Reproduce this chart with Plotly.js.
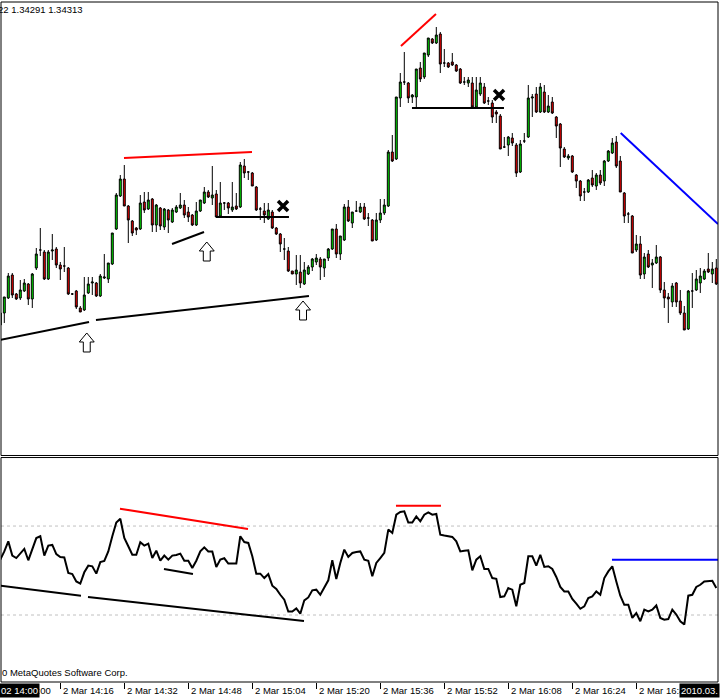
<!DOCTYPE html>
<html><head><meta charset="utf-8">
<script src="https://cdn.plot.ly/plotly-3.0.1.min.js"></script>
<style>html,body{margin:0;padding:0;background:#fff;}#chart{width:720px;height:700px;}</style>
</head><body><div id="chart"></div>
<script>
// EURUSD M1, 2 Mar 2010, bars from 14:01
const firstBar = Date.UTC(2010, 2, 2, 14, 1);
const barCount = 180;

const open = [1.34275,1.34287,1.34302,1.34325,1.34306,1.34302,1.34309,1.34316,1.34301,1.34332,
1.34350,1.34348,1.34321,1.34349,1.34351,1.34335,1.34334,1.34332,1.34306,1.34309,
1.34292,1.34290,1.34307,1.34317,1.34317,1.34304,1.34322,1.34321,1.34336,1.34371,
1.34404,1.34421,1.34394,1.34379,1.34372,1.34371,1.34398,1.34391,1.34401,1.34375,
1.34392,1.34373,1.34390,1.34378,1.34388,1.34392,1.34395,1.34388,1.34385,1.34375,
1.34389,1.34397,1.34408,1.34402,1.34406,1.34384,1.34397,1.34397,1.34390,1.34394,
1.34393,1.34434,1.34428,1.34427,1.34413,1.34391,1.34389,1.34381,1.34388,1.34372,
1.34366,1.34351,1.34349,1.34329,1.34326,1.34328,1.34316,1.34326,1.34333,1.34338,
1.34341,1.34332,1.34342,1.34351,1.34371,1.34346,1.34360,1.34393,1.34377,1.34389,
1.34388,1.34393,1.34382,1.34380,1.34360,1.34380,1.34387,1.34394,1.34448,1.34441,
1.34502,1.34518,1.34517,1.34503,1.34503,1.34532,1.34523,1.34545,1.34561,1.34557,
1.34566,1.34537,1.34537,1.34538,1.34535,1.34531,1.34518,1.34517,1.34517,1.34493,
1.34506,1.34513,1.34499,1.34497,1.34488,1.34484,1.34453,1.34455,1.34462,1.34455,
1.34428,1.34459,1.34463,1.34502,1.34506,1.34488,1.34508,1.34488,1.34498,1.34483,
1.34476,1.34451,1.34442,1.34444,1.34425,1.34419,1.34408,1.34408,1.34422,1.34414,
1.34425,1.34419,1.34439,1.34447,1.34458,1.34439,1.34407,1.34386,1.34384,1.34350,
1.34356,1.34326,1.34346,1.34335,1.34337,1.34343,1.34310,1.34303,1.34298,1.34317,
1.34299,1.34287,1.34271,1.34309,1.34310,1.34317,1.34321,1.34331,1.34326,1.34332];

const high = [1.34288,1.34303,1.34327,1.34327,1.34307,1.34320,1.34321,1.34317,1.34327,1.34352,
1.34372,1.34350,1.34350,1.34366,1.34353,1.34338,1.34353,1.34333,1.34307,1.34310,
1.34294,1.34323,1.34323,1.34323,1.34318,1.34326,1.34346,1.34337,1.34367,1.34407,
1.34425,1.34435,1.34395,1.34380,1.34373,1.34405,1.34408,1.34408,1.34402,1.34396,
1.34393,1.34392,1.34391,1.34392,1.34395,1.34407,1.34400,1.34393,1.34386,1.34398,
1.34400,1.34413,1.34410,1.34434,1.34410,1.34418,1.34398,1.34398,1.34418,1.34407,
1.34438,1.34441,1.34429,1.34428,1.34414,1.34393,1.34397,1.34397,1.34390,1.34373,
1.34367,1.34362,1.34353,1.34329,1.34345,1.34345,1.34338,1.34335,1.34342,1.34346,
1.34343,1.34341,1.34352,1.34371,1.34376,1.34364,1.34396,1.34400,1.34388,1.34399,
1.34397,1.34397,1.34387,1.34381,1.34387,1.34401,1.34401,1.34450,1.34465,1.34503,
1.34527,1.34548,1.34518,1.34506,1.34531,1.34538,1.34547,1.34562,1.34562,1.34573,
1.34568,1.34551,1.34538,1.34547,1.34536,1.34532,1.34523,1.34523,1.34523,1.34523,
1.34523,1.34517,1.34503,1.34500,1.34490,1.34486,1.34463,1.34464,1.34467,1.34457,
1.34460,1.34467,1.34515,1.34506,1.34513,1.34517,1.34515,1.34505,1.34503,1.34484,
1.34477,1.34453,1.34446,1.34445,1.34426,1.34420,1.34412,1.34421,1.34430,1.34427,
1.34430,1.34440,1.34450,1.34462,1.34464,1.34444,1.34408,1.34388,1.34385,1.34365,
1.34364,1.34347,1.34350,1.34341,1.34355,1.34344,1.34318,1.34307,1.34317,1.34318,
1.34310,1.34294,1.34310,1.34327,1.34330,1.34332,1.34331,1.34347,1.34338,1.34341];

const low = [1.34272,1.34277,1.34301,1.34302,1.34300,1.34300,1.34308,1.34295,1.34292,1.34330,
1.34344,1.34320,1.34320,1.34340,1.34332,1.34320,1.34328,1.34305,1.34305,1.34291,
1.34288,1.34289,1.34306,1.34305,1.34303,1.34303,1.34321,1.34317,1.34335,1.34370,
1.34403,1.34394,1.34357,1.34364,1.34365,1.34370,1.34387,1.34390,1.34368,1.34368,
1.34370,1.34370,1.34367,1.34377,1.34387,1.34391,1.34382,1.34378,1.34374,1.34374,
1.34388,1.34396,1.34402,1.34395,1.34383,1.34383,1.34390,1.34386,1.34388,1.34390,
1.34392,1.34422,1.34420,1.34414,1.34389,1.34380,1.34377,1.34380,1.34371,1.34365,
1.34348,1.34340,1.34328,1.34326,1.34315,1.34312,1.34315,1.34325,1.34329,1.34335,
1.34320,1.34323,1.34339,1.34350,1.34342,1.34340,1.34359,1.34378,1.34372,1.34388,
1.34387,1.34380,1.34374,1.34359,1.34359,1.34377,1.34385,1.34393,1.34438,1.34440,
1.34493,1.34515,1.34497,1.34497,1.34493,1.34518,1.34521,1.34543,1.34556,1.34556,
1.34527,1.34533,1.34532,1.34534,1.34528,1.34516,1.34515,1.34513,1.34492,1.34492,
1.34504,1.34496,1.34495,1.34477,1.34477,1.34451,1.34452,1.34444,1.34454,1.34423,
1.34427,1.34457,1.34462,1.34483,1.34487,1.34487,1.34487,1.34487,1.34486,1.34462,
1.34433,1.34442,1.34440,1.34427,1.34412,1.34399,1.34399,1.34407,1.34413,1.34410,
1.34415,1.34414,1.34438,1.34446,1.34432,1.34408,1.34377,1.34377,1.34347,1.34348,
1.34321,1.34321,1.34332,1.34312,1.34336,1.34307,1.34292,1.34277,1.34293,1.34293,
1.34285,1.34270,1.34270,1.34292,1.34309,1.34307,1.34320,1.34327,1.34317,1.34315];

const close = [1.34287,1.34303,1.34324,1.34305,1.34301,1.34310,1.34317,1.34301,1.34326,1.34346,
1.34350,1.34321,1.34348,1.34350,1.34335,1.34331,1.34334,1.34306,1.34306,1.34293,
1.34288,1.34305,1.34316,1.34318,1.34304,1.34324,1.34323,1.34337,1.34367,1.34405,
1.34421,1.34394,1.34380,1.34367,1.34370,1.34397,1.34390,1.34400,1.34375,1.34395,
1.34374,1.34391,1.34380,1.34390,1.34393,1.34395,1.34385,1.34383,1.34375,1.34389,
1.34400,1.34408,1.34403,1.34405,1.34383,1.34397,1.34397,1.34392,1.34393,1.34391,
1.34435,1.34427,1.34428,1.34414,1.34390,1.34391,1.34385,1.34390,1.34372,1.34366,
1.34356,1.34351,1.34329,1.34326,1.34330,1.34317,1.34330,1.34333,1.34341,1.34342,
1.34333,1.34341,1.34351,1.34371,1.34346,1.34364,1.34393,1.34379,1.34388,1.34389,
1.34393,1.34381,1.34382,1.34359,1.34380,1.34387,1.34395,1.34448,1.34439,1.34503,
1.34518,1.34518,1.34502,1.34505,1.34531,1.34521,1.34547,1.34562,1.34557,1.34565,
1.34536,1.34537,1.34533,1.34535,1.34529,1.34517,1.34518,1.34520,1.34493,1.34510,
1.34517,1.34497,1.34499,1.34483,1.34486,1.34451,1.34453,1.34463,1.34457,1.34427,
1.34456,1.34459,1.34502,1.34503,1.34488,1.34513,1.34488,1.34494,1.34487,1.34474,
1.34452,1.34443,1.34444,1.34428,1.34419,1.34404,1.34408,1.34420,1.34415,1.34425,
1.34417,1.34439,1.34449,1.34457,1.34434,1.34408,1.34384,1.34386,1.34347,1.34356,
1.34325,1.34343,1.34333,1.34337,1.34343,1.34310,1.34302,1.34301,1.34314,1.34298,
1.34287,1.34270,1.34309,1.34309,1.34321,1.34324,1.34329,1.34328,1.34331,1.34316];

// oscillator (0..100) under the price chart
const rsi = [54.9,58.6,63.1,56.7,55.6,57.9,59.7,54.6,59.7,64.6,
65.4,56.7,61.2,61.5,57.4,56.1,55.9,48.9,48.4,45.1,
44.1,49.2,52.2,51.9,48.6,53.8,54.3,58.6,65.4,71.6,
73.3,64.6,60.9,57.1,57.1,62.7,61.2,62.1,55.6,58.9,
54.4,56.7,54.9,56.7,57.0,57.6,54.4,54.4,51.1,54.4,
58.6,60.4,58.6,58.6,51.6,54.9,55.5,53.1,53.1,53.1,
65.4,62.8,62.4,56.4,48.6,48.6,46.6,48.4,43.2,41.7,
39.1,36.9,31.6,31.6,33.0,30.6,36.6,37.9,41.1,41.4,
39.1,42.1,45.6,54.6,46.2,53.4,59.4,56.1,57.9,58.3,
58.6,54.9,54.4,47.4,53.4,55.6,57.9,68.4,66.9,75.1,
76.3,76.6,71.6,71.6,74.3,72.1,75.1,76.1,75.1,75.4,
66.1,65.7,65.4,65.1,63.1,58.6,58.9,59.1,50.1,54.9,
56.4,50.7,50.7,46.6,46.3,38.1,38.4,42.1,41.4,33.9,
43.6,44.4,56.4,56.4,52.2,57.1,51.6,51.9,50.7,47.1,
42.6,40.6,40.6,37.2,35.1,32.8,33.9,37.6,38.4,40.6,
39.1,46.6,49.6,51.9,45.1,38.7,34.6,34.6,28.7,30.9,
27.2,32.4,31.6,32.4,34.3,28.7,27.9,28.2,32.4,30.2,
27.2,25.7,38.7,39.1,42.6,43.6,45.1,45.1,45.4,42.1];
const rsiLevels = [30, 70];

const tickTimes = ['2010-03-02 14:16','2010-03-02 14:32','2010-03-02 14:48','2010-03-02 15:04','2010-03-02 15:20',
'2010-03-02 15:36','2010-03-02 15:52','2010-03-02 16:08','2010-03-02 16:24','2010-03-02 16:40'];
const tickText = ['2 Mar 14:16','2 Mar 14:32','2 Mar 14:48','2 Mar 15:04','2 Mar 15:20',
'2 Mar 15:36','2 Mar 15:52','2 Mar 16:08','2 Mar 16:24','2 Mar 16:40'];

// hand-drawn objects on the price chart
const priceLines = [
 ['2010-03-02 14:31:55',1.34442,'2010-03-02 15:03:55',1.34448,'#ff0000'],
 ['2010-03-02 14:43:56',1.34356,'2010-03-02 14:51:56',1.34368,'#000000'],
 ['2010-03-02 14:00:56',1.34260,'2010-03-02 14:23:11',1.34278,'#000000'],
 ['2010-03-02 14:24:55',1.34280,'2010-03-02 15:18:10',1.34304,'#000000'],
 ['2010-03-02 14:54:55',1.34383,'2010-03-02 15:13:10',1.34383,'#000000'],
 ['2010-03-02 15:41:10',1.34554,'2010-03-02 15:49:55',1.34586,'#ff0000'],
 ['2010-03-02 15:43:55',1.34492,'2010-03-02 16:06:55',1.34492,'#000000'],
 ['2010-03-02 16:36:06',1.34467,'2010-03-02 17:00:25',1.34376,'#0000ff']
];
const oscLines = [
 ['2010-03-02 14:30:55',77.8,'2010-03-02 15:02:55',68.7,'#ff0000'],
 ['2010-03-02 14:41:55',50.7,'2010-03-02 14:49:10',48.4,'#000000'],
 ['2010-03-02 14:00:56',43.2,'2010-03-02 14:21:10',38.7,'#000000'],
 ['2010-03-02 14:22:55',38.1,'2010-03-02 15:16:55',27.3,'#000000'],
 ['2010-03-02 15:39:55',79.1,'2010-03-02 15:51:10',79.1,'#ff0000'],
 ['2010-03-02 16:33:55',54.85,'2010-03-02 17:00:25',54.85,'#0000ff']
];
const crossTimes = ['2010-03-02 15:11:41','2010-03-02 16:05:41'];
const crossPrices = [1.34394, 1.34505];
// up-arrow objects: tip time (UTC ms) and tip price
const arrowTimes = [Date.UTC(2010,2,2,14,22,37), Date.UTC(2010,2,2,14,52,37), Date.UTC(2010,2,2,15,16,41)];
const arrowTipPrices = [1.34267, 1.34358, 1.34299];
// arrow outline: [seconds from tip, price below tip]
const arrowOutline = [[0,0],[112,0.00009],[52,0.00009],[52,0.00019],[-52,0.00019],[-52,0.00009],[-112,0.00009]];

const times = [];
for (let i = 0; i < barCount; i++) {
  times.push(new Date(firstBar + i * 60000).toISOString().slice(0, 16).replace('T', ' '));
}

const font = 'Tahoma, "Liberation Sans", Arial, sans-serif';

const traces = [
  {type:'candlestick', x:times, open:open, high:high, low:low, close:close, xaxis:'x', yaxis:'y',
   whiskerwidth:0, hoverinfo:'skip',
   increasing:{fillcolor:'#00dc00', line:{color:'#000000', width:1}},
   decreasing:{fillcolor:'#ee0000', line:{color:'#000000', width:1}}},
  {type:'scatter', mode:'markers', x:crossTimes, y:crossPrices, xaxis:'x', yaxis:'y', hoverinfo:'skip',
   marker:{symbol:'x-thin', size:10, color:'#000', line:{color:'#000', width:3.5}}},
  {type:'scatter', mode:'lines', x:times, y:rsi, xaxis:'x', yaxis:'y2', hoverinfo:'skip',
   line:{color:'#000000', width:2}}
];

const shapes = [];
rsiLevels.forEach(v => shapes.push({type:'line', xref:'paper', x0:0, x1:1, yref:'y2', y0:v, y1:v,
  line:{color:'#c0c0c0', width:1, dash:'3px,3px'}, layer:'below'}));
priceLines.forEach(l => shapes.push({type:'line', xref:'x', yref:'y', x0:l[0], y0:l[1], x1:l[2], y1:l[3],
  line:{color:l[4], width:2}}));
oscLines.forEach(l => shapes.push({type:'line', xref:'x', yref:'y2', x0:l[0], y0:l[1], x1:l[2], y1:l[3],
  line:{color:l[4], width:2}}));
arrowTimes.forEach((t, i) => {
  const pts = arrowOutline.map(o => new Date(t + o[0] * 1000).toISOString().slice(0, 19).replace('T', '_') + ',' +
    (arrowTipPrices[i] - o[1]).toFixed(6));
  shapes.push({type:'path', xref:'x', yref:'y', path:'M' + pts.join('L') + 'Z',
    fillcolor:'#ffffff', line:{color:'#000000', width:1}});
});
shapes.push({type:'rect', xref:'paper', yref:'y domain', x0:0, x1:1, y0:0, y1:1, line:{color:'#000', width:1}});
shapes.push({type:'rect', xref:'paper', yref:'y2 domain', x0:0, x1:1, y0:0, y1:1, line:{color:'#000', width:1}});

const annotations = [];
tickTimes.forEach((t, i) => annotations.push({x:t, xref:'x', y:0, yref:'paper', text:tickText[i],
  showarrow:false, xanchor:'left', yanchor:'top', xshift:1, yshift:-1, font:{family:font, size:9.5, color:'#000'}}));
annotations.push({x:0, xref:'paper', y:0, yref:'paper', text:'2 Mar 14:00', showarrow:false, xanchor:'left', yanchor:'top',
  xshift:-3, yshift:-1, font:{family:font, size:9.5, color:'#000'}});
annotations.push({x:0, xref:'paper', y:0, yref:'paper', text:'02 14:00', showarrow:false, xanchor:'left', yanchor:'top',
  xshift:-2, yshift:-1, bgcolor:'#000', borderpad:1, font:{family:font, size:9.5, color:'#fff'}});
annotations.push({x:1, xref:'paper', y:0, yref:'paper', text:'2010.03.', showarrow:false, xanchor:'right', yanchor:'top',
  xshift:2, yshift:-1, bgcolor:'#000', borderpad:1, font:{family:font, size:9.5, color:'#fff'}});
annotations.push({x:0, xref:'paper', y:0, yref:'paper', text:'0 MetaQuotes Software Corp.', showarrow:false,
  xanchor:'left', yanchor:'bottom', xshift:-1, yshift:2, font:{family:font, size:9.5, color:'#000'}});
annotations.push({x:0, xref:'paper', y:1, yref:'paper', text:'22 1.34291 1.34313', showarrow:false,
  xanchor:'left', yanchor:'top', xshift:-5, yshift:0, font:{family:font, size:9.5, color:'#000'}});

const layout = {
  width:720, height:700, margin:{l:1, r:2, t:2, b:18},
  paper_bgcolor:'#ffffff', plot_bgcolor:'#ffffff', showlegend:false,
  xaxis:{type:'date', range:['2010-03-02 14:01:10.5','2010-03-02 17:00:25.5'], anchor:'y2',
    showgrid:false, zeroline:false, showline:false, ticks:'outside', ticklen:6, tickcolor:'#000', tickwidth:1,
    tickvals:tickTimes, showticklabels:false, rangeslider:{visible:false}, fixedrange:true},
  yaxis:{domain:[0.3331, 1], range:[1.341445, 1.34598], showgrid:false, zeroline:false,
    showticklabels:false, ticks:'', showline:false, fixedrange:true},
  yaxis2:{domain:[0, 0.3301], range:[-0.11, 100.79], showgrid:false, zeroline:false,
    showticklabels:false, ticks:'', showline:false, fixedrange:true},
  shapes:shapes, annotations:annotations
};

Plotly.newPlot('chart', traces, layout, {staticPlot:true, displayModeBar:false});
</script></body></html>
